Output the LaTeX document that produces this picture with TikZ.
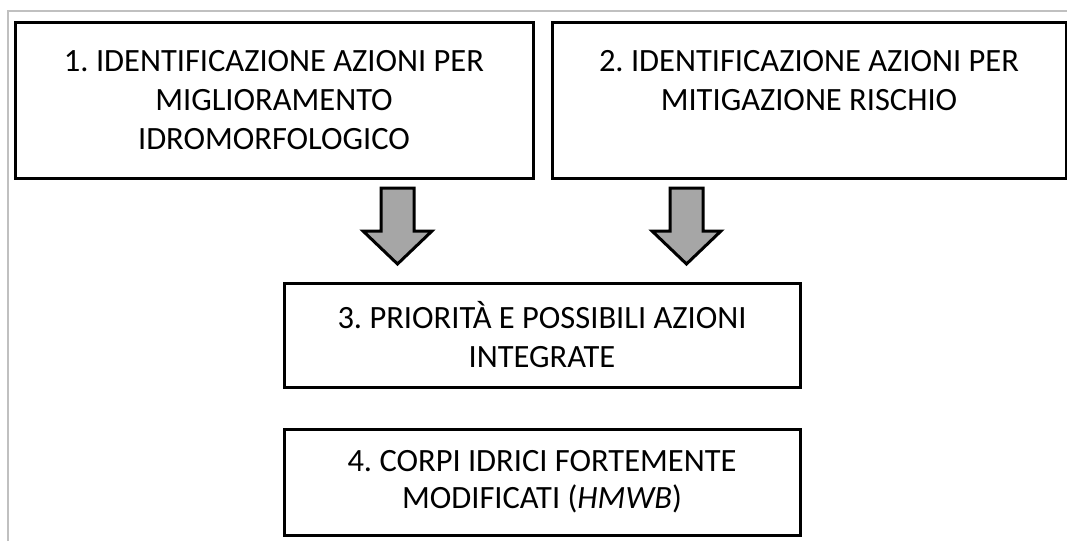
\documentclass[tikz,border=0pt]{standalone}
\usepackage{fontspec}
\setmainfont{Carlito}
\frenchspacing
\definecolor{arrowgray}{RGB}{166,166,166}
\definecolor{framegray}{RGB}{192,192,192}
\tikzset{
  box/.style={draw=black, line width=3pt, align=center, inner sep=0pt,
    font=\fontsize{32.5}{39}\selectfont},
  barrow/.style={draw=black, fill=arrowgray, line width=3pt, line join=miter},
  frameline/.style={draw=framegray, line width=1.3pt}
}
\newcommand\myblockarrow[1]{%
  \draw[barrow] (#1) ++(-16.5,0) -- ++(33,0) -- ++(0,43) -- ++(18,0)
    -- ++(-34.5,33) -- ++(-34.5,-33) -- ++(18,0) -- cycle;}
\begin{document}
\begin{tikzpicture}[x=1pt,y=-1pt]
\useasboundingbox (0,0) rectangle (1067,541);
\coordinate (fa) at (8,541);
\coordinate (fb) at (8,11);
\coordinate (fc) at (1067,11);
\draw[frameline] (fa) -- (fb) -- (fc);
\node[box, minimum width=518pt, minimum height=156pt] (b1) at (274,100)
  {1. IDENTIFICAZIONE AZIONI PER\\MIGLIORAMENTO\\IDROMORFOLOGICO};
\node[box, minimum width=514pt, minimum height=156pt] (b2) at (809,100)
  {2. IDENTIFICAZIONE AZIONI PER\\MITIGAZIONE RISCHIO\\\phantom{X}};
\node[box, minimum width=516pt, minimum height=104pt] (b3) at (542,335)
  {3. PRIORITÀ E POSSIBILI AZIONI\\INTEGRATE};
\node[box, minimum width=516pt, minimum height=106pt,
  font=\fontsize{32.5}{37}\selectfont] (b4) at (542,482)
  {4. CORPI IDRICI FORTEMENTE\\MODIFICATI (\textit{HMWB})};
\coordinate (a1) at (397.5,188);
\coordinate (a2) at (686.5,188);
\myblockarrow{a1}
\myblockarrow{a2}
\end{tikzpicture}
\end{document}
